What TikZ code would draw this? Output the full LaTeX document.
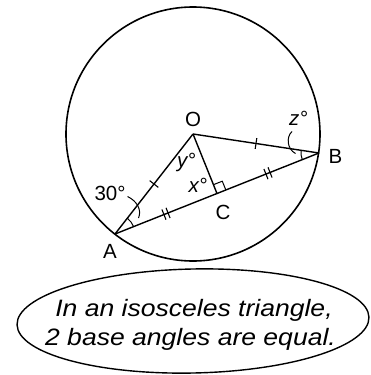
\documentclass[tikz,border=0pt]{standalone}
\usepackage{fontspec}
\setmainfont{Liberation Sans}
\newfontfamily\calloutfont[FakeStretch=1.12]{Liberation Sans}
\usetikzlibrary{calc,decorations.markings}
\tikzset{
  lbl/.style={inner sep=0pt, anchor=base, font=\fontsize{20.5}{24}\selectfont},
  ilbl/.style={inner sep=0pt, anchor=base west, font=\fontsize{20.5}{24}\selectfont\itshape},
  seg/.style={line width=1.4pt},
  onetick/.style={seg, postaction={decorate, decoration={markings,
      mark=at position 0.5 with {\draw[line width=1.1pt] (0pt,-5.5pt) -- (0pt,5.5pt);}}}},
  twotick/.style={seg, postaction={decorate, decoration={markings,
      mark=at position 0.5 with {\draw[line width=1.1pt] (-2.2pt,-5.5pt) -- (-2.2pt,5.5pt) (2.2pt,-5.5pt) -- (2.2pt,5.5pt);}}}},
  thin/.style={line width=1pt},
  txt/.style={inner sep=0pt, anchor=base, font=\fontsize{23.7}{28}\selectfont\calloutfont\itshape}
}
\begin{document}
\begin{tikzpicture}[x=1pt,y=-1pt]
\useasboundingbox (0,0) rectangle (370,375);
% points
\coordinate (O) at (193,134);
\coordinate (A) at (115,234);
\coordinate (B) at (319,153);
\coordinate (C) at ($(A)!0.5!(B)$);
% circle
\draw[line width=1.6pt] (O) circle[radius=127];
% segments
\draw[onetick] (A) -- (O);
\draw[onetick] (O) -- (B);
\draw[twotick] (A) -- (C);
\draw[twotick] (C) -- (B);
\draw[seg] (O) -- (C);
% right angle
\coordinate (P1) at ($(C)!9.5pt!(B)$);
\coordinate (P2) at ($(C)!9.5pt!(O)$);
\draw[thin] (P1) -- ($(P1)+(P2)-(C)$) -- (P2);
% angle arcs
\draw[thin] ($(A)+(-51.8:20)$) arc[start angle=-51.8, end angle=-21.7, radius=20];
\draw[thin] ($(B)+(158.3:18)$) arc[start angle=158.3, end angle=188.6, radius=18];
% leaders
\coordinate (L1a) at (127.5,196.5);
\coordinate (L1b) at (138.5,218);
\draw[thin] (L1a) .. controls (137,201) and (142,210) .. (L1b);
\coordinate (L2a) at (292,131.5);
\coordinate (L2b) at (295.5,153.5);
\draw[thin] (L2a) .. controls (286,137) and (287,149) .. (L2b);
% labels
\node[lbl] (lO) at (193,126) {O};
\node[lbl] (lB) at (335.5,163) {B};
\node[lbl] (lA) at (110,258) {A};
\node[lbl] (lC) at (223,219) {C};
\node[lbl] (l30) at (110,200) {30°};
\node[ilbl] (lz) at (289,125) {z°};
\node[ilbl] (ly) at (177,167.5) {y°};
\node[ilbl] (lx) at (188.5,192) {x°};
% callout
\draw[line width=1.4pt, rotate around={1.2:(193,321)}] (193,321) ellipse[x radius=176, y radius=52];
\node[txt] (t1) at (194,316) {In an isosceles triangle,};
\node[txt] (t2) at (190.5,345.5) {2 base angles are equal.};
\end{tikzpicture}
\end{document}
